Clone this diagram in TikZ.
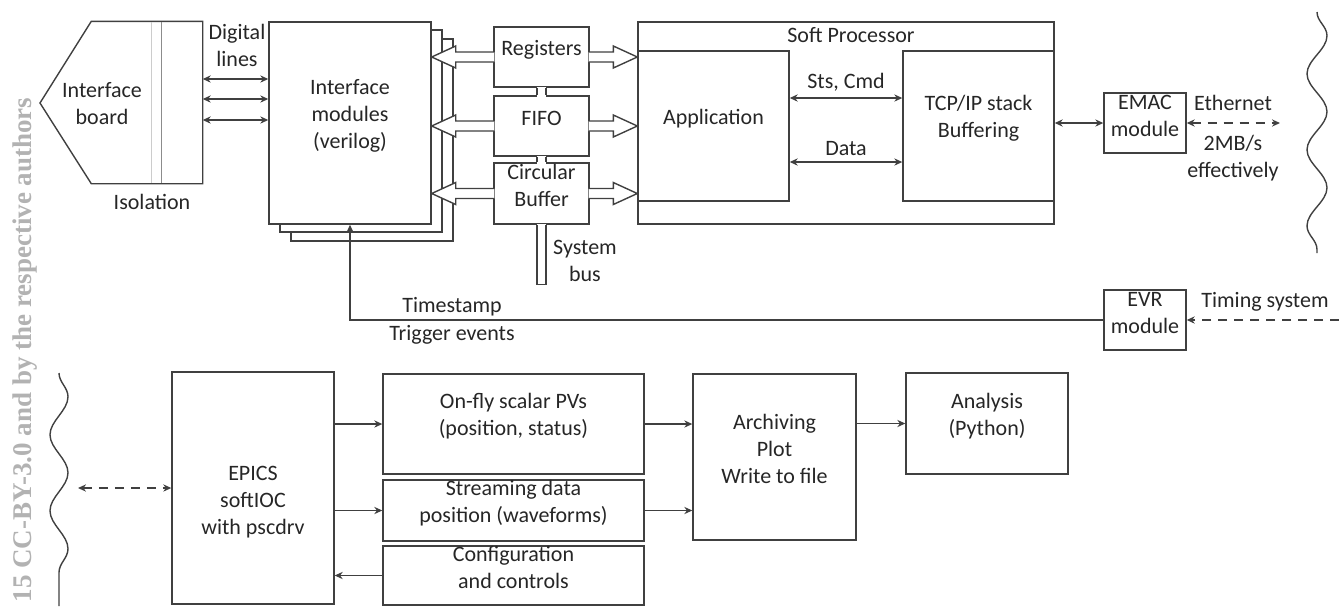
\documentclass[tikz,border=0pt]{standalone}
\usepackage{fontspec}
\setmainfont{Carlito}
\newfontfamily\wmfont{Liberation Serif}
\usetikzlibrary{arrows.meta,positioning,fit,calc,shadows,decorations.pathmorphing}

\begin{document}
\begin{tikzpicture}[x=0.5pt, y=-0.5pt, >={Stealth[length=4pt,width=3.6pt]},
    line width=0.7pt, color=black!75, text=black!85,
    font=\fontsize{11}{13.5}\selectfont,
    box/.style={rectangle, draw, inner sep=0pt, align=center},
    lbl/.style={align=center, inner sep=0pt},
    hollow/.style={to path={let \p1=(\tikztostart), \p2=(\tikztotarget), \n1={sign(\x2-\x1)} in
        ({\x1-(\n1)*0.5pt},{\y1+2.5pt}) -- ({\x2-(\n1)*12pt},{\y1+2.5pt}) -- ({\x2-(\n1)*12pt},{\y1+5.5pt})
        -- (\x2,\y1) -- ({\x2-(\n1)*12pt},{\y1-5.5pt}) -- ({\x2-(\n1)*12pt},{\y1-2.5pt}) -- ({\x1-(\n1)*0.5pt},{\y1-2.5pt})}},
    wavy/.style={decorate, decoration={snake, amplitude=5pt, segment length=38pt}}]
    \useasboundingbox (0,0) rectangle (1339,606);

    % margin note of the page
    \node[rotate=90, anchor=base west, inner sep=0pt, text=black!30,
        font=\wmfont\bfseries\fontsize{13.5}{16}\selectfont] (margin) at (32,603) {15 CC-BY-3.0 and by the respective authors};

    % interface board
    \node[fit={(92,22) (202,183)}, inner sep=0pt] (board) {};
    \draw (board.north east) -- (board.north west) -- (40,103) -- (board.south west) -- (board.south east) -- cycle;
    \draw[black!20, line width=0.5pt] (151,22) -- (151,183);
    \draw[black!45, line width=0.5pt] (161,22) -- (161,183);
    \node[lbl] (boardtxt) at (102,104) {Interface\\board};
    \node[lbl] (isol) at (152,202) {Isolation};
    \node[lbl] (diglbl) at (237,45) {Digital\\lines};

    % interface modules
    \node[box, fill=white, copy shadow={shadow xshift=11pt, shadow yshift=-8.5pt, draw=black!75},
        copy shadow={shadow xshift=5.5pt, shadow yshift=-4pt, draw=black!75},
        fit={(269,22) (431,224)}] (mods) {Interface\\modules\\(verilog)};
    \foreach \y in {79,99,120}
        \draw[<->] (board.east |- 0,\y) -- (mods.west |- 0,\y);

    % bus blocks
    \node[box, fit={(494,27) (589,87)}] (regs) {Registers};
    \node[box, fit={(494,96) (589,156)}] (fifo) {FIFO};
    \node[box, fit={(494,163) (589,224)}] (cbuf) {Circular\\Buffer};
    \foreach \a/\b in {regs/fifo,fifo/cbuf} {
        \fill[white] ([xshift=-2.25pt,yshift=0.6pt]\a.south) rectangle ([xshift=2.25pt,yshift=-0.6pt]\b.north);
        \draw ([xshift=-2.25pt]\a.south) -- ([xshift=-2.25pt]\b.north)
              ([xshift=2.25pt]\a.south) -- ([xshift=2.25pt]\b.north);
    }
    \fill[white] ([xshift=-2.25pt,yshift=0.6pt]cbuf.south) rectangle ([xshift=2.25pt,yshift=-1pt]cbuf.south);
    \draw ([xshift=-2.25pt]cbuf.south) -- ++(0,-30pt) -- ++(4.5pt,0) -- ++(0,30pt);
    \node[lbl] (buslbl) at (585,261) {System\\bus};

    % soft processor
    \node[box, fit={(638,22) (1054,224)}] (soft) {};
    \node[lbl] (softlbl) at (851,35) {Soft Processor};
    \node[box, fit={(638,51) (789,201)}] (app) {Application};
    \node[box, fit={(903,51) (1054,201)}] (tcp) {TCP/IP stack\\Buffering};
    \draw[<->] (app.east |- 0,98) -- (tcp.west |- 0,98) node[lbl, midway, yshift=8pt] {Sts, Cmd};
    \draw[<->] (app.east |- 0,162) -- (tcp.west |- 0,162) node[lbl, midway, yshift=6.5pt] {Data};

    \foreach \b in {regs,fifo,cbuf} {
        \draw[fill=white] (\b.west) to[hollow] (mods.east |- \b.west);
        \draw[fill=white] (\b.east) to[hollow] (soft.west |- \b.east);
    }

    % ethernet side
    \node[box, fit={(1104,93) (1186,153)}] (emac) {EMAC\\module};
    \draw[<->] (emac.west -| tcp.east) -- (emac.west);
    \coordinate (eth) at (1280,123);
    \draw[<->, dash pattern=on 4.5pt off 3.5pt] (emac.east) -- (eth);
    \node[lbl] (ethlbl) at (1233,103) {Ethernet};
    \node[lbl] (ratelbl) at (1233,158) {2MB/s\\effectively};
    \draw[wavy] (1317,12) -- (1317,253);

    % timing
    \node[box, fit={(1104,290) (1186,350)}] (evr) {EVR\\module};
    \coordinate (timing) at (1339,320);
    \draw[->, dash pattern=on 4.5pt off 3.5pt] (timing) -- (evr.east);
    \node[lbl] (timinglbl) at (1265,302) {Timing system};
    \draw[->] (evr.west) -| (mods.south);
    \node[lbl] (tslbl) at (452,307) {Timestamp};
    \node[lbl] (trglbl) at (452,335) {Trigger events};

    % EPICS side
    \draw[wavy, decoration={amplitude=4.5pt}] (59,373) -- (59,606);
    \node[box, fit={(172,372) (334,604)}] (epics) {};
    \node[lbl] (epicslbl) at (253,502) {EPICS\\softIOC\\with pscdrv};
    \coordinate (ioc) at (78,488);
    \draw[<->, dash pattern=on 4.5pt off 3.5pt] (ioc) -- (epics.west);

    \node[box, fit={(383,374) (644,474)}] (onfly) {On-fly scalar PVs\\(position, status)};
    \node[box, fit={(383,480) (644,541)}] (stream) {Streaming data\\position (waveforms)};
    \node[box, fit={(383,546) (644,605)}] (config) {Configuration\\and controls};
    \draw[->] (epics.east |- onfly.west) -- (onfly.west);
    \draw[->] (epics.east |- stream.west) -- (stream.west);
    \draw[->] (config.west) -- (epics.east |- config.west);

    \node[box, fit={(693,374) (856,540)}] (arch) {Archiving\\Plot\\Write to file};
    \draw[->] (onfly.east) -- (arch.west |- onfly.east);
    \draw[->] (stream.east) -- (arch.west |- stream.east);
    \node[box, fit={(906,373) (1068,474)}] (analysis) {Analysis\\(Python)};
    \draw[->] (arch.east |- analysis.west) -- (analysis.west);
\end{tikzpicture}
\end{document}
